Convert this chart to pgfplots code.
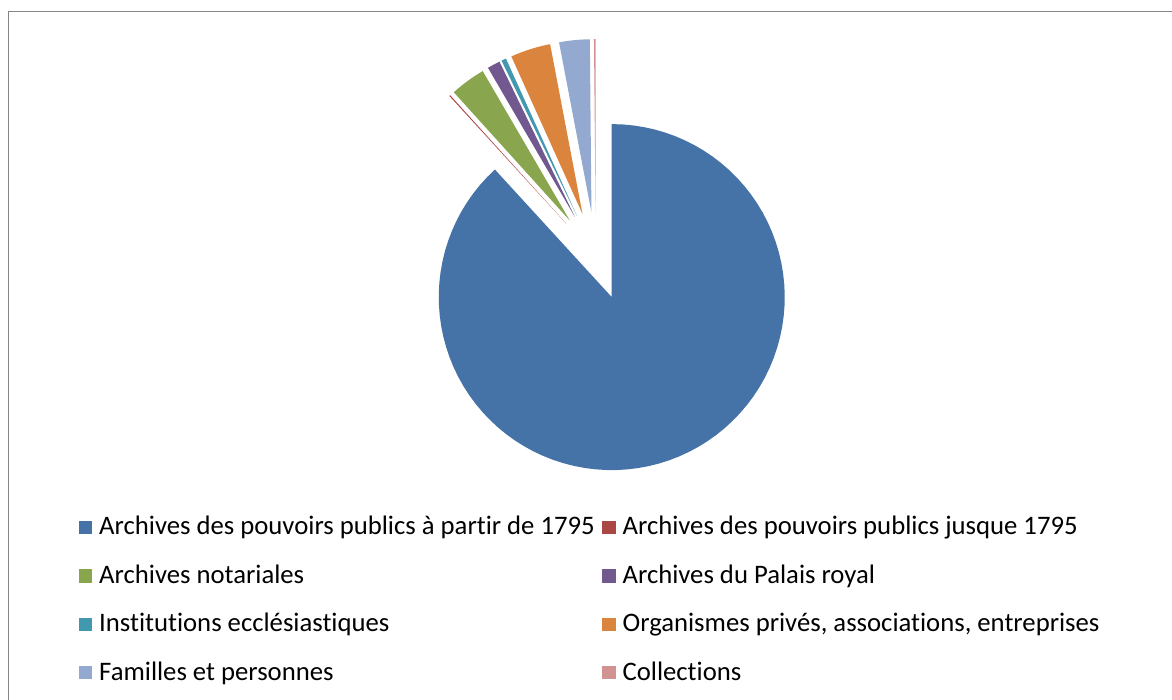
\documentclass[border=0pt]{standalone}
\usepackage{pgfplots}
\pgfplotsset{compat=1.18}
\usepackage{fontspec}
\setmainfont{Carlito}[Ligatures=NoCommon]
\definecolor{cA}{HTML}{4572A7}
\definecolor{cB}{HTML}{AA4643}
\definecolor{cC}{HTML}{89A54E}
\definecolor{cD}{HTML}{71588F}
\definecolor{cE}{HTML}{4198AF}
\definecolor{cF}{HTML}{DB843D}
\definecolor{cG}{HTML}{93A9CF}
\definecolor{cH}{HTML}{D19392}
\definecolor{frame}{HTML}{868686}
% pie geometry (pixel units): centre, radius, explosion
\def\pcx{595.8}\def\pcy{443.9}\def\prad{173}\def\pexp{44}
\gdef\cum{0}
\newcommand\slice[3]{%
  \pgfmathsetmacro\sa{\cum*3.6}%
  \pgfmathsetmacro\sb{(\cum+#1)*3.6}%
  \pgfmathsetmacro\sm{(\sa+\sb)/2}%
  \pgfmathsetmacro\slcx{\pcx+\pexp*sin(\sm)}%
  \pgfmathsetmacro\slcy{\pcy+\pexp*cos(\sm)}%
  \pgfmathsetmacro\newcum{\cum+#1}%
  \xdef\cum{\newcum}%
  \edef\temp{\noexpand\addplot[fill=#2, draw=none, domain=\sa:\sb, samples=90]
     ({\slcx+\prad*sin(x)},{\slcy+\prad*cos(x)}) -- (axis cs:\slcx,\slcy) -- cycle;}%
  \temp
  \addlegendentry{#3}%
}
\begin{document}
\begin{tikzpicture}
\begin{axis}[
  scale only axis, width=586pt, height=350pt,
  xmin=0, xmax=1172, ymin=0, ymax=700,
  hide axis, clip=false,
  legend columns=2,
  legend cell align=left,
  legend style={draw=none, fill=none, font=\fontsize{13.35pt}{15pt}\selectfont,
     at={(axis cs:79,185)}, anchor=north west, inner sep=0pt, outer sep=0pt,
     nodes={inner sep=0pt, text height=10pt, text depth=3pt}, row sep=11.2pt,
     /tikz/every odd column/.append style={column sep=3.4pt},
     /tikz/every even column/.append style={column sep=3.8pt}},
  legend image code/.code={\fill[#1] (0pt,-3.1pt) rectangle (6.7pt,3.6pt);},
]
\slice{88.2}{cA}{Archives des pouvoirs publics à partir de 1795}
\slice{0.1}{cB}{Archives des pouvoirs publics jusque 1795}
\slice{3.3}{cC}{Archives notariales}
\slice{1.2}{cD}{Archives du Palais royal}
\slice{0.45}{cE}{Institutions ecclésiastiques}
\slice{3.75}{cF}{Organismes privés, associations, entreprises}
\slice{2.85}{cG}{Familles et personnes}
\slice{0.15}{cH}{Collections}
\draw[line width=0.65pt, frame] (axis cs:8.3,-5) -- (axis cs:8.3,688.3) -- (axis cs:1180,688.3);
\end{axis}
\pgfresetboundingbox
\useasboundingbox (0,0) rectangle (586pt,350pt);
\end{tikzpicture}
\end{document}
